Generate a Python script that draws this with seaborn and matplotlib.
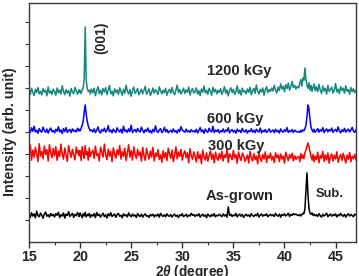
import numpy as np
import pandas as pd
import matplotlib
matplotlib.use("Agg")
import matplotlib.pyplot as plt
import seaborn as sns

# ---- data -------------------------------------------------------------
two_theta = np.round(np.concatenate([
    np.arange(15.0, 19.9, 0.125),     # 40 points
    np.arange(19.9, 21.15, 0.1),      # 13 points
    np.arange(21.25, 41.26, 0.125),   # 161 points
    np.arange(41.4, 43.05, 0.1),      # 17 points
    np.arange(43.125, 47.01, 0.125),  # 32 points
]), 3)

i_1200 = ([688, 671, 699, 680, 666, 694, 679, 702, 673, 685, 668, 697, 681, 690, 664, 705, 676, 687, 670, 695]
          + [683, 667, 700, 678, 691, 672, 710, 684, 669, 693, 677, 688, 663, 698, 681, 674, 703, 686, 671, 692]
          + [680, 688, 674, 692, 700, 742, 977, 735, 698, 684, 690, 672, 695]
          + [678, 699, 665, 687, 706, 674, 690, 668, 697, 681, 702, 670, 688, 711, 673, 685, 664, 696, 679, 691]
          + [670, 701, 683, 667, 694, 676, 712, 686, 672, 693, 662, 688, 704, 675, 684, 698, 669, 681, 695, 673]
          + [689, 707, 671, 684, 696, 666, 680, 700, 676, 692, 683, 670, 705, 687, 673, 690, 678, 698, 667, 685]
          + [694, 675, 702, 681, 669, 689, 713, 679, 693, 672, 686, 699, 674, 691, 680, 704, 668, 687, 697, 676]
          + [684, 700, 672, 688, 665, 695, 681, 709, 677, 690, 671, 698, 686, 667, 703, 682, 694, 673, 689, 679]
          + [697, 670, 685, 706, 676, 691, 664, 688, 701, 679, 693, 671, 684, 710, 675, 690, 668, 699, 682, 687]
          + [673, 695, 680, 703, 669, 688, 698, 676, 714, 685, 672, 694, 681, 700, 667, 690, 706, 679, 693, 684]
          + [700, 686, 712, 691, 677, 704, 688, 719, 695, 708, 683, 715, 697, 722, 690, 706, 730, 701, 712, 695]
          + [707]
          + [700, 722, 738, 708, 745, 735, 791, 740, 712, 698, 724, 690, 712, 684, 703, 718, 688]
          + [705, 683, 716, 690, 675, 709, 686, 698, 672, 712, 684, 693, 704, 677, 690, 720, 681, 695, 674, 706]
          + [688, 699, 676, 710, 685, 693, 671, 702, 683, 696, 679, 690])

i_600 = ([510, 497, 519, 503, 526, 500, 508, 494, 515, 504, 499, 522, 506, 498, 513, 495, 509, 518, 501, 507]
         + [496, 512, 503, 524, 500, 509, 493, 515, 502, 520, 498, 506, 511, 497, 514, 503, 508, 500, 517, 505]
         + [512, 505, 518, 530, 548, 590, 623, 580, 548, 527, 515, 505, 510]
         + [500, 514, 497, 508, 523, 502, 495, 511, 503, 517, 499, 506, 529, 501, 509, 496, 513, 504, 498, 519]
         + [507, 500, 512, 495, 526, 503, 509, 498, 514, 502, 531, 497, 506, 511, 499, 516, 504, 500, 522, 507]
         + [496, 510, 503, 518, 499, 507, 495, 512, 501, 528, 504, 498, 509, 515, 497, 505, 521, 500, 511, 496]
         + [503, 508, 498, 514, 500, 506, 495, 511, 502, 524, 509, 503, 499, 513, 500, 506, 498, 510, 502, 505]
         + [499, 512, 496, 507, 520, 501, 509, 494, 513, 503, 498, 517, 505, 500, 526, 497, 508, 502, 511, 496]
         + [506, 500, 514, 498, 509, 503, 519, 496, 505, 511, 499, 507, 494, 513, 502, 508, 497, 516, 503, 500]
         + [510, 495, 506, 502, 515, 499, 508, 497, 512, 503, 500, 518, 496, 507, 501, 511, 498, 505, 514, 499]
         + [504, 509, 497, 512, 501, 507, 495, 514, 503, 499, 510, 502, 520, 498, 506, 501, 511, 497, 508, 503]
         + [500]
         + [502, 498, 507, 500, 510, 505, 514, 530, 568, 623, 605, 555, 522, 509, 500, 512, 498]
         + [506, 515, 499, 510, 503, 520, 497, 508, 514, 500, 511, 504, 518, 498, 507, 512, 501, 523, 505, 496]
         + [510, 502, 516, 499, 507, 513, 500, 509, 521, 503, 498, 511])

i_300 = ([395, 440, 372, 418, 385, 430, 402, 365, 447, 390, 412, 378, 436, 398, 420, 368, 442, 405, 383, 425]
         + [392, 433, 371, 414, 388, 445, 400, 376, 427, 395, 366, 438, 409, 384, 421, 397, 373, 431, 402, 416]
         + [392, 415, 370, 433, 401, 380, 438, 396, 410, 372, 428, 388, 404]
         + [417, 380, 436, 393, 402, 368, 431, 410, 386, 445, 397, 374, 422, 390, 412, 365, 428, 400, 381, 419]
         + [396, 438, 377, 411, 389, 426, 370, 404, 442, 385, 415, 372, 432, 398, 379, 421, 393, 409, 367, 430]
         + [392, 371, 425, 398, 377, 413, 386, 430, 368, 404, 389, 420, 375, 396, 362, 415, 383, 407, 370, 426]
         + [401, 380, 418, 365, 395, 432, 378, 409, 388, 421, 372, 399, 414, 383, 406, 360, 424, 391, 376, 410]
         + [388, 364, 410, 379, 398, 356, 418, 385, 372, 405, 367, 392, 414, 376, 399, 360, 408, 382, 371, 402]
         + [379, 412, 368, 395, 384, 421, 362, 401, 390, 374, 416, 381, 397, 358, 409, 387, 370, 404, 393, 366]
         + [378, 395, 359, 412, 384, 368, 401, 375, 390, 355, 407, 381, 366, 398, 377, 410, 362, 393, 380, 404]
         + [372, 389, 361, 405, 383, 396, 365, 400, 377, 391, 358, 408, 386, 370, 397, 381, 403, 368, 392, 375]
         + [386]
         + [388, 365, 402, 380, 395, 378, 405, 418, 438, 450, 432, 410, 388, 372, 398, 365, 390]
         + [375, 408, 360, 392, 381, 412, 366, 396, 373, 405, 358, 389, 400, 368, 394, 377, 410, 362, 385, 398]
         + [370, 403, 381, 359, 395, 376, 407, 365, 390, 378, 399, 372])

i_asgrown = ([125, 112, 133, 118, 128, 110, 140, 120, 115, 131, 122, 108, 127, 136, 117, 124, 113, 130, 119, 126]
             + [114, 129, 121, 135, 111, 124, 118, 132, 109, 127, 120, 138, 116, 123, 130, 112, 126, 119, 134, 121]
             + [116, 132, 121, 110, 128, 118, 135, 114, 125, 120, 130, 112, 124]
             + [118, 129, 111, 134, 120, 126, 113, 122, 131, 115, 124, 109, 128, 119, 133, 116, 121, 127, 112, 125]
             + [130, 117, 122, 110, 128, 119, 124, 114, 132, 121, 115, 127, 118, 123, 111, 129, 120, 116, 126, 113]
             + [122, 128, 117, 120, 112, 125, 119, 126, 114, 123, 118, 127, 113, 130, 121, 116, 124, 115, 128, 119]
             + [117, 125, 113, 121, 127, 116, 122, 111, 124, 119, 128, 115, 120, 126, 114, 123, 118, 130, 121, 125]
             + [116, 124, 119, 128, 113, 121, 126, 117, 123, 111, 127, 120, 115, 125, 118, 129, 114, 122, 119, 126]
             + [121, 115, 128, 118, 124, 113, 159, 120, 126, 116, 123, 119, 130, 114, 122, 127, 117, 125, 112, 121]
             + [126, 118, 123, 114, 129, 120, 116, 125, 119, 131, 113, 122, 127, 117, 124, 120, 128, 115, 121, 126]
             + [119, 124, 116, 130, 121, 117, 127, 113, 125, 120, 128, 118, 123, 131, 116, 126, 121, 129, 124, 127]
             + [122]
             + [120, 126, 118, 124, 130, 128, 150, 230, 314, 215, 150, 132, 125, 133, 121, 127, 119]
             + [124, 116, 129, 120, 113, 126, 118, 123, 131, 115, 122, 127, 117, 125, 120, 128, 114, 124, 119, 130]
             + [121, 117, 126, 113, 123, 128, 118, 125, 120, 115, 127, 122])

series_names = ["1200 kGy", "600 kGy", "300 kGy", "As-grown"]
series_colors = ["#17877d", "#0000ff", "#ff0000", "#000000"]
x_ticks = [15, 20, 25, 30, 35, 40, 45]

# ---- style ------------------------------------------------------------
sns.set_style("ticks")
plt.rcParams["font.family"] = ["Liberation Sans", "DejaVu Sans"]
plt.rcParams["font.weight"] = "bold"
plt.rcParams["mathtext.fontset"] = "custom"
plt.rcParams["mathtext.rm"] = "Liberation Sans:bold"
plt.rcParams["mathtext.it"] = "Liberation Sans:italic:bold"
plt.rcParams["mathtext.bf"] = "Liberation Sans:bold"

fig = plt.figure(figsize=(3.59, 2.76), dpi=100)
ax = fig.add_axes([29 / 359, 34 / 276, 327 / 359, 239 / 276])

frames = []
for name, vals in zip(series_names, [i_1200, i_600, i_300, i_asgrown]):
    frames.append(pd.DataFrame({"two_theta": two_theta, "intensity": vals, "sample": name}))
df = pd.concat(frames, ignore_index=True)

for name, col in zip(series_names, series_colors):
    sub = df[df["sample"] == name]
    sns.lineplot(data=sub, x="two_theta", y="intensity", ax=ax, color=col,
                 lw=1.1, estimator=None, sort=False, legend=False)

ax.set_xlim(15, 47)
ax.set_ylim(0, 1086)
ax.set_xticks(x_ticks)
ax.set_xticks(np.arange(17.5, 47, 5), minor=True)
ax.set_yticks(np.arange(100, 1001, 100))
ax.set_yticklabels([])
ax.tick_params(axis="x", which="major", direction="out", length=4, width=1,
               labelsize=10.3, pad=1.5, color="#333333")
ax.tick_params(axis="x", which="minor", direction="out", length=2.5, width=0.8, color="#333333")
ax.tick_params(axis="y", which="major", direction="out", length=3, width=0.8, color="#333333")
for lbl in ax.get_xticklabels():
    lbl.set_fontweight("bold")
for s in ax.spines.values():
    s.set_color("#3a3a3a")
    s.set_linewidth(1.0)

ax.set_xlabel(r"2$\theta$ (degree)", fontsize=9.8, fontweight="bold", labelpad=-0.5)
ax.set_ylabel("Intensity (arb. unit)", fontsize=10.3, fontweight="bold")
ax.yaxis.set_label_coords(-0.036, 0.46)

ax.text(22.1, 930, "(001)", rotation=90, ha="center", va="center", fontsize=10, fontweight="bold")
ax.text(32.4, 759, "1200 kGy", ha="left", va="baseline", fontsize=10.5, fontweight="bold")
ax.text(32.4, 542, "600 kGy", ha="left", va="baseline", fontsize=10.5, fontweight="bold")
ax.text(32.5, 418, "300 kGy", ha="left", va="baseline", fontsize=10.5, fontweight="bold")
ax.text(32.3, 191, "As-grown", ha="left", va="baseline", fontsize=10.5, fontweight="bold")
ax.text(43.1, 205, "Sub.", ha="left", va="baseline", fontsize=9.3, fontweight="bold")

fig.savefig("out.png", dpi=100)
